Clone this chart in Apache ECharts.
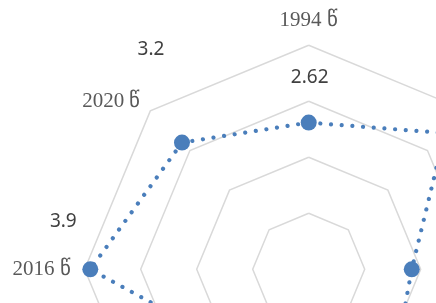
<!DOCTYPE html>
<html>

<head>
    <meta charset="utf-8" />
    <script src="https://cdn.jsdelivr.net/npm/echarts@6/dist/echarts.min.js"></script>
</head>

<body>
    <style>
        html,
        body {
            margin: 0;
            background: #fff;
        }

        #main {
            width: 436px;
            height: 303px;
        }
    </style>
    <div id="main"></div>

    <script type="text/javascript">
        // categories in chronological order (clockwise from the top in the picture)
        const years = ['1994 წ', '1998 წ', '2002 წ', '2006 წ', '2010 წ', '2013 წ', '2016 წ', '2020 წ'];
        const values = [2.62, 3.44, 1.84, 2.2, 2.0, 1.95, 3.9, 3.2];
        const axisMax = 4;

        // echarts runs the radar counter-clockwise, so keep the first one and flip the rest
        function ccw(arr) {
            return [arr[0]].concat(arr.slice(1).reverse());
        }

        // where each value label sits relative to its point, in chronological order
        const labelShift = [[1, -45], [30, -45], [50, 0], [30, 40], [0, 40], [-30, 40], [-27, -48], [-31, -93]];

        const rich = {};
        labelShift.forEach(function (s, i) {
            rich['v' + i] = {
                color: '#404040',
                fontFamily: 'Noto Sans',
                fontSize: 19,
                padding: [Math.max(0, 2 * s[1]), Math.max(0, -2 * s[0]), Math.max(0, -2 * s[1]), Math.max(0, 2 * s[0])]
            };
        });

        var chart = echarts.init(document.getElementById('main'), null, { renderer: 'canvas' });
        chart.setOption({
            backgroundColor: '#fff',
            animation: false,
            radar: {
                center: [308.7, 269.3],
                radius: 224,
                startAngle: 90,
                splitNumber: 4,
                shape: 'polygon',
                indicator: ccw(years).map(function (y) {
                    return { name: y, max: axisMax, min: 0 };
                }),
                nameGap: 14,
                axisName: {
                    color: '#595959',
                    fontFamily: 'Liberation Serif',
                    fontSize: 21
                },
                axisLine: { show: false },
                axisTick: { show: false },
                axisLabel: { show: false },
                splitArea: { show: false },
                splitLine: {
                    lineStyle: { color: '#d9d9d9', width: 1.5 }
                }
            },
            series: [
                {
                    type: 'radar',
                    symbol: 'circle',
                    symbolSize: 16,
                    itemStyle: { color: '#4a7ebb' },
                    lineStyle: {
                        color: '#4a7ebb',
                        width: 4.2,
                        type: [0.01, 10.7],
                        cap: 'round'
                    },
                    label: {
                        show: true,
                        position: 'inside',
                        formatter: function (p) {
                            var i = values.indexOf(p.value);
                            return '{v' + i + '|' + p.value + '}';
                        },
                        rich: rich
                    },
                    data: [{ value: ccw(values) }]
                }
            ]
        });
    </script>
</body>

</html>
